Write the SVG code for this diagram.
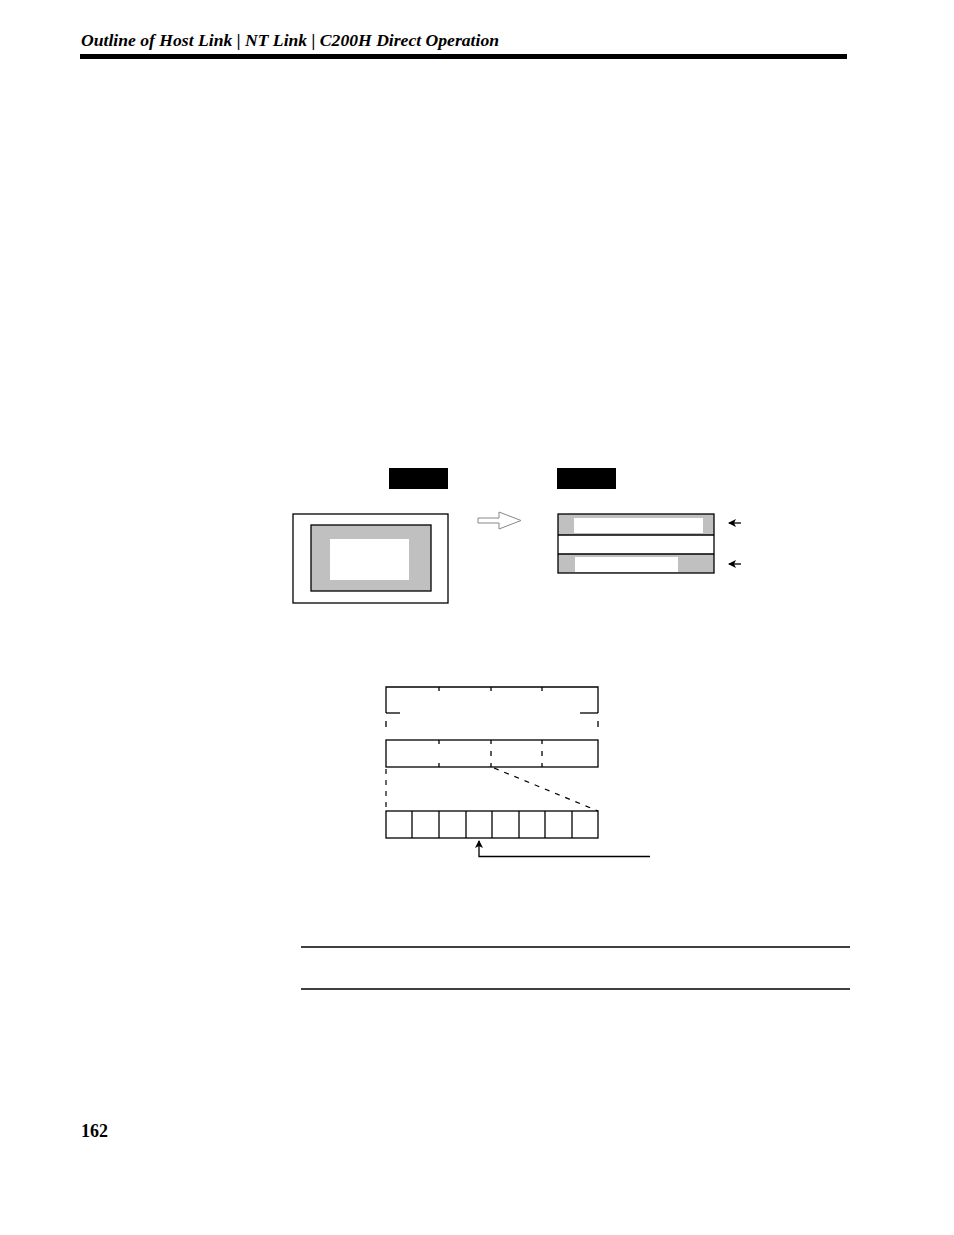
<svg xmlns="http://www.w3.org/2000/svg" width="954" height="1235" viewBox="0 0 954 1235">
<style>
.ln{stroke:#000;stroke-width:1.3;fill:none}
.dsh{stroke:#000;stroke-width:1.2;fill:none;stroke-dasharray:5,6}
.gray{fill:#c0c0c0}
.wh{fill:#fff}
.hdr{font-family:"Liberation Serif",serif;font-style:italic;font-weight:bold;font-size:17px}
.pg{font-family:"Liberation Serif",serif;font-weight:bold;font-size:18px}
</style>
<defs>
<marker id="ah" markerWidth="8" markerHeight="8" refX="7" refY="4" orient="auto" markerUnits="userSpaceOnUse">
<path d="M0,0 L8,4 L0,8 L2,4 Z" fill="#000"/>
</marker>
</defs>
<rect width="954" height="1235" fill="#fff"/>
<g id="header">
<text class="hdr" x="81" y="46" textLength="418" lengthAdjust="spacingAndGlyphs">Outline of Host Link | NT Link | C200H Direct Operation</text>
<rect x="80" y="54" width="767" height="5" fill="#000"/>
</g>
<g id="label-before"><rect x="389" y="468" width="59" height="21" fill="#000"/></g>
<g id="label-after"><rect x="557" y="468" width="59" height="21" fill="#000"/></g>
<g id="screen-before">
<rect x="293" y="514" width="155" height="89" class="ln" fill="#fff"/>
<rect x="311" y="525" width="120" height="66" class="gray" stroke="#000" stroke-width="1.3"/>
<rect x="330" y="539" width="79" height="41" class="wh"/>
</g>
<g id="hollow-arrow">
<path d="M478,518 L499,518 L499,512 L521,520.5 L499,529 L499,523 L478,523 Z" fill="#fff" stroke="#888" stroke-width="1"/>
</g>
<g id="screen-after">
<rect x="558" y="514" width="156" height="21" class="gray"/>
<rect x="574" y="518" width="129" height="15" class="wh"/>
<rect x="558" y="554" width="156" height="19" class="gray"/>
<rect x="575" y="557" width="103" height="15" class="wh"/>
<rect x="558" y="514" width="156" height="59" class="ln"/>
<line x1="558" y1="535" x2="714" y2="535" class="ln"/>
<line x1="558" y1="554" x2="714" y2="554" class="ln"/>
</g>
<g id="words">
<path class="ln" d="M386,713 L386,687 L598,687 L598,713"/>
<line class="ln" x1="386" y1="713" x2="400" y2="713"/>
<line class="ln" x1="580" y1="713" x2="598" y2="713"/>
<line class="ln" x1="439" y1="687" x2="439" y2="691"/>
<line class="ln" x1="491" y1="687" x2="491" y2="691"/>
<line class="ln" x1="542" y1="687" x2="542" y2="691"/>
<line class="ln" x1="386" y1="721" x2="386" y2="727"/>
<line class="ln" x1="598" y1="721" x2="598" y2="727"/>
<rect class="ln" x="386" y="740" width="212" height="27"/>
<line class="ln" x1="439" y1="740" x2="439" y2="744"/>
<line class="ln" x1="439" y1="763" x2="439" y2="767"/>
<line class="ln" x1="491" y1="740" x2="491" y2="744"/>
<line class="ln" x1="491" y1="751" x2="491" y2="756"/>
<line class="ln" x1="491" y1="763" x2="491" y2="767"/>
<line class="ln" x1="542" y1="740" x2="542" y2="744"/>
<line class="ln" x1="542" y1="751" x2="542" y2="756"/>
<line class="ln" x1="542" y1="763" x2="542" y2="767"/>
</g>
<g id="bits">
<rect class="ln" x="386" y="811" width="212" height="27"/>
<line class="ln" x1="412" y1="811" x2="412" y2="838"/>
<line class="ln" x1="439" y1="811" x2="439" y2="838"/>
<line class="ln" x1="466" y1="811" x2="466" y2="838"/>
<line class="ln" x1="492" y1="811" x2="492" y2="838"/>
<line class="ln" x1="519" y1="811" x2="519" y2="838"/>
<line class="ln" x1="545" y1="811" x2="545" y2="838"/>
<line class="ln" x1="572" y1="811" x2="572" y2="838"/>
</g>
<g id="connectors">
<line class="dsh" x1="386" y1="769" x2="386" y2="811"/>
<line class="dsh" x1="494" y1="768" x2="598" y2="811"/>
<path class="ln" d="M650,856.5 L479,856.5 L479,841" marker-end="url(#ah)"/>
<line class="ln" x1="741" y1="523" x2="729" y2="523" marker-end="url(#ah)"/>
<line class="ln" x1="741" y1="564" x2="729" y2="564" marker-end="url(#ah)"/>
</g>
<g id="rules">
<line x1="301" y1="947" x2="850" y2="947" stroke="#000" stroke-width="1.3"/>
<line x1="301" y1="989" x2="850" y2="989" stroke="#000" stroke-width="1.3"/>
</g>
<g id="page"><text class="pg" x="81" y="1137">162</text></g>
</svg>
